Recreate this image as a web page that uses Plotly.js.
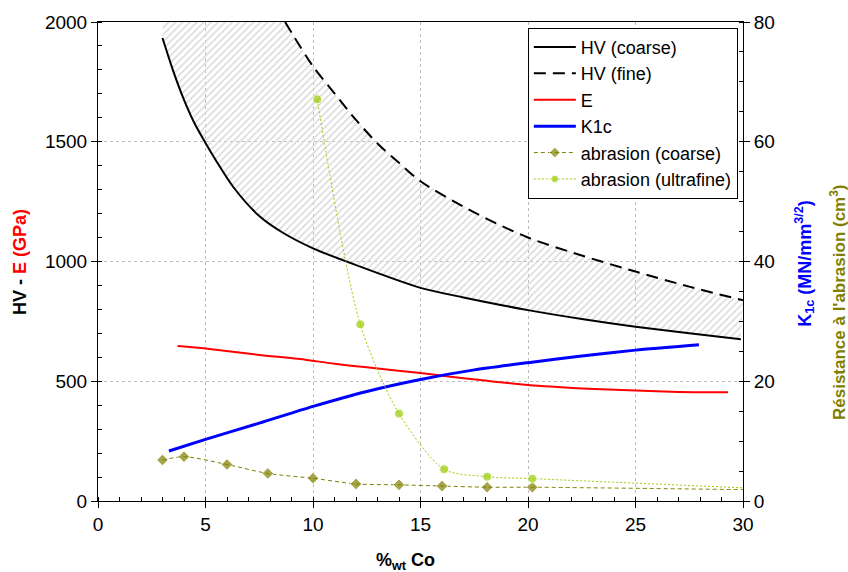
<!DOCTYPE html>
<html>
<head>
<meta charset="utf-8">
<script src="https://cdn.plot.ly/plotly-3.0.1.min.js"></script>
<style>html,body{margin:0;padding:0;background:#fff;}#chart{width:848px;height:572px;}</style>
</head>
<body>
<div id="chart"></div>
<script>
// ---- data ----
const hvCoarseX = [3, 3.5, 4, 4.5, 5, 5.5, 6.3, 7.5, 8.6, 10, 12, 15, 17, 20, 22.5, 25, 27.5, 29.9];
const hvCoarseY = [1933, 1795, 1675, 1575, 1495, 1420, 1310, 1190, 1120, 1055, 985, 890, 850, 797, 760, 728, 700, 675];

const hvFineX = [8.7, 10, 11, 12, 13, 14, 15, 17.5, 20, 22.5, 25, 27.5, 30];
const hvFineY = [2000, 1815, 1702, 1591, 1493, 1412, 1335, 1205, 1100, 1025, 958, 895, 838];

const eX = [3.7, 5, 7.5, 9.4, 11, 12.5, 15, 16.4, 17.8, 20, 22.5, 25, 27, 29.3];
const eY = [647, 637, 610, 593, 573, 558, 534, 519, 505, 484, 470, 461, 455, 454];

const k1cX = [3.3, 5, 7.5, 10, 12.5, 15, 17.5, 20, 22.5, 25, 27.95];
const k1cY = [8.35, 10.3, 13.0, 15.8, 18.3, 20.3, 21.9, 23.1, 24.2, 25.2, 26.1];

const abrCoarseX = [3, 4, 6, 7.9, 10, 12, 14, 16, 18.1, 20.2, 30];
const abrCoarseY = [6.85, 7.4, 6.1, 4.6, 3.8, 2.85, 2.7, 2.5, 2.3, 2.3, 1.9];

const abrFineX = [10.2, 12.2, 14, 16.1, 18.1, 20.2, 30];
const abrFineY = [67.1, 29.5, 14.6, 5.3, 4.06, 3.73, 2.2];

const xRange = [0, 30];
const yRange = [0, 2000];
const y2Range = [0, 80];

// ---- hatched band between HV (coarse) and HV (fine), capped at axis top ----
const bandX = hvCoarseX.concat(hvFineX.slice().reverse(), [hvCoarseX[0]]);
const bandY = hvCoarseY.concat(hvFineY.slice().reverse(), [yRange[1]]);

const FONT = 'Liberation Sans, Arial, sans-serif';

function hideLast(n, size) { return Array.from({length: n}, (_, i) => i === n - 1 ? 0 : size); }

const traces = [
  {x: bandX, y: bandY, mode: 'none', fill: 'toself', showlegend: false, hoverinfo: 'skip',
   fillcolor: 'rgba(0,0,0,0)',
   fillpattern: {shape: '/', fgcolor: '#d9d9d9', bgcolor: 'rgba(255,255,255,0)', size: 5, solidity: 0.3}},
  {x: hvCoarseX, y: hvCoarseY, name: 'HV (coarse)', mode: 'lines',
   line: {color: '#000000', width: 2, shape: 'spline', smoothing: 0.8}},
  {x: hvFineX, y: hvFineY, name: 'HV (fine)', mode: 'lines',
   line: {color: '#000000', width: 2, dash: '12px,7px', shape: 'spline', smoothing: 0.8}},
  {x: eX, y: eY, name: 'E', mode: 'lines',
   line: {color: '#ff0000', width: 2, shape: 'spline', smoothing: 0.6}},
  {x: k1cX, y: k1cY, name: 'K1c', mode: 'lines', yaxis: 'y2',
   line: {color: '#0000ff', width: 3, shape: 'spline', smoothing: 0.6}},
  {x: abrCoarseX, y: abrCoarseY, name: 'abrasion (coarse)', mode: 'lines+markers', yaxis: 'y2',
   line: {color: '#808000', width: 1, dash: '4px,3px', shape: 'spline', smoothing: 0.8},
   marker: {symbol: 'diamond', color: '#808000', size: hideLast(abrCoarseX.length, 9)}},
  {x: abrFineX, y: abrFineY, name: 'abrasion (ultrafine)', mode: 'lines+markers', yaxis: 'y2',
   line: {color: '#99cc00', width: 1, dash: '2px,2px', shape: 'spline', smoothing: 0.8},
   marker: {symbol: 'circle', color: '#99cc00', size: hideLast(abrFineX.length, 9)}}
];

const axisCommon = {
  showline: true, linecolor: '#000', linewidth: 1,
  ticks: 'outside', ticklen: 6, tickcolor: '#000', tickwidth: 1,
  tickfont: {family: FONT, size: 19, color: '#000'},
  zeroline: false
};

const layout = {
  width: 848, height: 572,
  margin: {l: 98, r: 105, t: 22, b: 71},
  paper_bgcolor: '#fff', plot_bgcolor: '#fff',
  font: {family: FONT, color: '#000'},
  showlegend: true,
  xaxis: Object.assign({}, axisCommon, {
    range: xRange, dtick: 5, tick0: 0, mirror: true,
    showgrid: true, gridcolor: '#bdbdbd', griddash: '3px,3px', gridwidth: 1,
    minor: {dtick: 1, ticks: 'inside', ticklen: 4, tickcolor: '#000', showgrid: false}
  }),
  yaxis: Object.assign({}, axisCommon, {
    range: yRange, dtick: 500, tick0: 0,
    showgrid: true, gridcolor: '#bdbdbd', griddash: '3px,3px', gridwidth: 1,
    minor: {dtick: 100, ticks: 'inside', ticklen: 4, tickcolor: '#000', showgrid: false}
  }),
  yaxis2: Object.assign({}, axisCommon, {
    range: y2Range, dtick: 20, tick0: 0, overlaying: 'y', side: 'right', showgrid: false,
    minor: {dtick: 5, ticks: 'inside', ticklen: 4, tickcolor: '#000', showgrid: false}
  }),
  legend: {
    x: 0.992, xanchor: 'right', y: 0.988, yanchor: 'top',
    bgcolor: '#fff', bordercolor: '#000', borderwidth: 1,
    font: {family: FONT, size: 18, color: '#000'},
    itemwidth: 42, tracegroupgap: 0
  },
  annotations: [
    {xref: 'paper', yref: 'paper', x: -0.121, y: 0.499, xanchor: 'center', yanchor: 'middle',
     textangle: -90, showarrow: false,
     text: "<b>HV - <span style='color:#ff0000'>E (GPa)</span></b>",
     font: {family: FONT, size: 18, color: '#000'}},
    {xref: 'paper', yref: 'paper', x: 1.096, y: 0.497, xanchor: 'center', yanchor: 'middle',
     textangle: -90, showarrow: false,
     text: "<b>K<sub>1c</sub> (MN/mm<sup>3/2</sup>)</b>",
     font: {family: FONT, size: 18, color: '#0000ff'}},
    {xref: 'paper', yref: 'paper', x: 1.147, y: 0.415, xanchor: 'center', yanchor: 'middle',
     textangle: -90, showarrow: false,
     text: "<b>Résistance à l'abrasion (cm<sup>3</sup>)</b>",
     font: {family: FONT, size: 17, color: '#808000'}},
    {xref: 'paper', yref: 'paper', x: 0.477, y: -0.127, xanchor: 'center', yanchor: 'middle',
     showarrow: false,
     text: "<b>%<sub>wt</sub> Co</b>",
     font: {family: FONT, size: 18, color: '#000'}}
  ]
};

Plotly.newPlot('chart', traces, layout, {displayModeBar: false, staticPlot: true});
</script>
</body>
</html>
